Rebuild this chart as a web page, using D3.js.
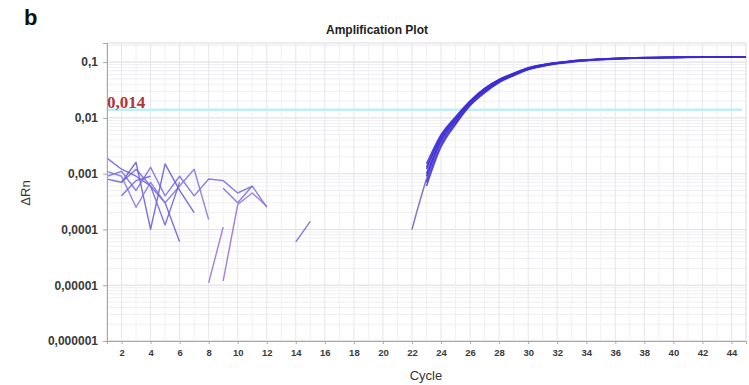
<!DOCTYPE html>
<html>
<head>
<meta charset="utf-8">
<script src="https://cdn.jsdelivr.net/npm/d3@7"></script>
<style>
  html, body { margin: 0; padding: 0; background: #fff; }
  svg { display: block; }
</style>
</head>
<body>
<svg id="chart" width="749" height="385"></svg>
<script>
// ---------------- DATA ----------------
const xTicks = [2,4,6,8,10,12,14,16,18,20,22,24,26,28,30,32,34,36,38,40,42,44];
const yTickValues = [0.000001, 0.00001, 0.0001, 0.001, 0.01, 0.1];
const yTickLabels = ["0,000001", "0,00001", "0,0001", "0,001", "0,01", "0,1"];
const threshold = 0.014;
const thresholdLabel = "0,014";

// amplification curves (cycles 22..45)
const ampCycles = [22,23,24,25,26,27,28,29,30,31,32,33,34,35,36,37,38,39,40,41,42,43,44,45];
const curveA = [0.0001, 0.0008, 0.0040, 0.0090, 0.0185, 0.031, 0.046, 0.060, 0.076, 0.087, 0.096, 0.103, 0.108, 0.112, 0.115, 0.118, 0.119, 0.120, 0.121, 0.122, 0.123, 0.123, 0.124, 0.123];
const curveB = [null, 0.0015, 0.0050, 0.0105, 0.020, 0.034, 0.049, 0.063, 0.079, 0.090, 0.098, 0.105, 0.110, 0.114, 0.117, 0.119, 0.121, 0.122, 0.123, 0.124, 0.124, 0.125, 0.125, 0.124];
const curveC = [null, 0.0007, 0.0033, 0.0080, 0.0170, 0.029, 0.044, 0.058, 0.074, 0.085, 0.094, 0.101, 0.107, 0.111, 0.114, 0.117, 0.118, 0.120, 0.121, 0.122, 0.122, 0.123, 0.123, 0.122];
const curveD = [null, 0.0012, 0.0045, 0.0098, 0.0195, 0.033, 0.048, 0.062, 0.078, 0.089, 0.097, 0.104, 0.109, 0.113, 0.116, 0.119, 0.120, 0.121, 0.122, 0.123, 0.124, 0.124, 0.125, 0.124];
const curveE = [null, 0.0009, 0.0037, 0.0086, 0.0178, 0.030, 0.045, 0.059, 0.075, 0.086, 0.095, 0.102, 0.107, 0.111, 0.115, 0.117, 0.119, 0.120, 0.121, 0.122, 0.123, 0.123, 0.124, 0.123];
const curveF = [null, 0.0013, 0.0047, 0.0100, 0.0200, 0.0335, 0.0485, 0.0625, 0.0785, 0.0895, 0.0975, 0.1045, 0.1095, 0.1135, 0.1165, 0.119, 0.1205, 0.1215, 0.1225, 0.1235, 0.124, 0.1245, 0.125, 0.1245];
const curveG = [null, 0.0010, 0.0041, 0.0092, 0.0188, 0.0315, 0.0465, 0.0605, 0.0765, 0.0875, 0.0965, 0.1035, 0.1085, 0.1125, 0.1155, 0.118, 0.1195, 0.1205, 0.1215, 0.1225, 0.123, 0.1235, 0.124, 0.1235];
const curveH = [null, 0.0006, 0.0030, 0.0076, 0.0165, 0.028, 0.043, 0.057, 0.073, 0.084, 0.093, 0.100, 0.106, 0.110, 0.113, 0.116, 0.118, 0.119, 0.120, 0.121, 0.122, 0.122, 0.123, 0.122];

// early-cycle noise traces: [cycle, deltaRn]
const noise1 = [[1,0.0019],[2,0.0012],[3,0.0009],[4,0.0006],[5,0.0003],[6,0.00006]];
const noise2 = [[1,0.0009],[2,0.0011],[3,0.0005],[4,0.0013],[5,0.0004],[6,0.0009],[7,0.0004],[8,0.0008],[9,0.00075],[10,0.00045],[11,0.0006],[12,0.00025]];
const noise3 = [[1,0.0008],[2,0.0007],[3,0.0016],[4,0.0001],[5,0.0015],[6,0.0005],[7,0.0002]];
const noise4 = [[1,0.0011],[2,0.0009],[3,0.00025],[4,0.0007],[5,0.0003],[6,0.0006],[7,0.0012],[8,0.00015]];
const noise5 = [[2,0.0007],[3,0.0012],[4,0.0006],[5,0.00012],[6,0.0007]];
const noise6 = [[2,0.0004],[3,0.00075],[4,0.0009]];
const noise7 = [[9,0.00055],[10,0.0003],[11,0.0006]];
const noise8 = [[8,0.000011],[9,0.00011]];
const noise9 = [[9,0.000012],[10,0.00028],[11,0.00045],[12,0.00026]];
const noise10 = [[14,0.00006],[15,0.00014]];

const noiseColors = ["#6f63dc","#7b70e2","#6a5fd8","#8478e0","#7466dd","#6f63dc","#7b6fe0","#9a6fd6","#9a70d8","#7a68d8"];
const curveColor = "#3c2cd4";

// ---------------- LAYOUT ----------------
const svg = d3.select("#chart");
const L = 107, R = 746, T = 43, B = 341;

const x = d3.scaleLinear().domain([1, 45]).range([L, R]);
const y = d3.scaleLog().domain([0.000001, 0.22]).range([B, T]);

// background grid
const grid = svg.append("g");
const minorY = [];
for (let e = -6; e <= -1; e++) for (let m = 1; m <= 9; m++) { const v = m * Math.pow(10, e); if (v <= 0.22) minorY.push(v); }
minorY.push(0.2);
grid.selectAll("line.hy").data(minorY).enter().append("line")
  .attr("x1", L).attr("x2", R)
  .attr("y1", d => y(d)).attr("y2", d => y(d))
  .attr("stroke", "#efeff2").attr("stroke-width", 1);
grid.selectAll("line.hy2").data(yTickValues).enter().append("line")
  .attr("x1", L).attr("x2", R)
  .attr("y1", d => y(d)).attr("y2", d => y(d))
  .attr("stroke", "#e2e2e6").attr("stroke-width", 1);
const vCycles = d3.range(2, 45);
grid.selectAll("line.vx").data(vCycles).enter().append("line")
  .attr("x1", d => x(d)).attr("x2", d => x(d))
  .attr("y1", T).attr("y2", B)
  .attr("stroke", d => d % 2 === 0 ? "#e6e6ea" : "#f0f0f3").attr("stroke-width", 1);

// plot border
svg.append("rect").attr("x", L).attr("y", T).attr("width", R - L).attr("height", B - T)
  .attr("fill", "none").attr("stroke", "#dcdcdc").attr("stroke-width", 1);

// threshold
svg.append("line").attr("x1", L).attr("x2", R - 4)
  .attr("y1", y(threshold)).attr("y2", y(threshold))
  .attr("stroke", "#bfeef6").attr("stroke-width", 2.4);

// noise traces
const noiseData = [noise1, noise2, noise3, noise4, noise5, noise6, noise7, noise8, noise9, noise10];
const lineN = d3.line().x(d => x(d[0])).y(d => y(d[1]));
svg.append("g").selectAll("path").data(noiseData).enter().append("path")
  .attr("d", lineN).attr("fill", "none")
  .attr("stroke", (d, i) => noiseColors[i]).attr("stroke-width", 1.4)
  .attr("stroke-opacity", 0.9).attr("stroke-linejoin", "round");

// amplification curves
const curves = [curveA, curveB, curveC, curveD, curveE, curveF, curveG, curveH];
const lineA = d3.line().defined(d => d[1] != null).x(d => x(d[0])).y(d => y(d[1])).curve(d3.curveMonotoneX);
svg.append("g").selectAll("path").data(curves).enter().append("path")
  .attr("d", c => lineA(ampCycles.map((cy, i) => [cy, c[i]])))
  .attr("fill", "none").attr("stroke", (c, i) => i === 0 ? "#6a5fc8" : curveColor)
  .attr("stroke-width", 1.5).attr("stroke-opacity", 0.85);

// threshold label
svg.append("text").attr("x", L).attr("y", 108)
  .attr("font-family", "'Liberation Serif', 'DejaVu Serif', serif")
  .attr("font-size", 17).attr("font-weight", "bold").attr("fill", "#b3343a").text(thresholdLabel);

// axes
const yAxis = svg.append("g").attr("transform", `translate(${L},0)`)
  .call(d3.axisLeft(y).tickValues(yTickValues).tickFormat((d, i) => yTickLabels[i]).tickSize(4).tickPadding(5));
yAxis.select(".domain").attr("stroke", "#a8a8a8");
yAxis.selectAll(".tick line").attr("stroke", "#a8a8a8");
yAxis.selectAll("text").attr("font-family", "'Liberation Sans', Arial, sans-serif")
  .attr("font-size", 12).attr("font-weight", "bold").attr("fill", "#3a3a3a");

const xAxis = svg.append("g").attr("transform", `translate(0,${B})`)
  .call(d3.axisBottom(x).tickValues(xTicks).tickSize(3).tickPadding(5));
xAxis.select(".domain").attr("stroke", "#a8a8a8");
xAxis.selectAll(".tick line").attr("stroke", "#a8a8a8");
xAxis.selectAll("text").attr("font-family", "'Liberation Sans', Arial, sans-serif")
  .attr("font-size", 9.5).attr("font-weight", "bold").attr("fill", "#3a3a3a");

// titles
svg.append("text").attr("x", 377).attr("y", 34).attr("text-anchor", "middle")
  .attr("font-family", "'Liberation Sans', Arial, sans-serif").attr("font-size", 12)
  .attr("font-weight", "bold").attr("fill", "#222").text("Amplification Plot");
svg.append("text").attr("x", 426).attr("y", 380).attr("text-anchor", "middle")
  .attr("font-family", "'Liberation Sans', Arial, sans-serif").attr("font-size", 13)
  .attr("fill", "#333").text("Cycle");
svg.append("text").attr("transform", "translate(30,193) rotate(-90)").attr("text-anchor", "middle")
  .attr("font-family", "'Liberation Sans', Arial, sans-serif").attr("font-size", 13)
  .attr("fill", "#333").text("ΔRn");
svg.append("text").attr("x", 24).attr("y", 25)
  .attr("font-family", "'Liberation Sans', Arial, sans-serif").attr("font-size", 22)
  .attr("font-weight", "bold").attr("fill", "#111").text("b");
</script>
</body>
</html>
